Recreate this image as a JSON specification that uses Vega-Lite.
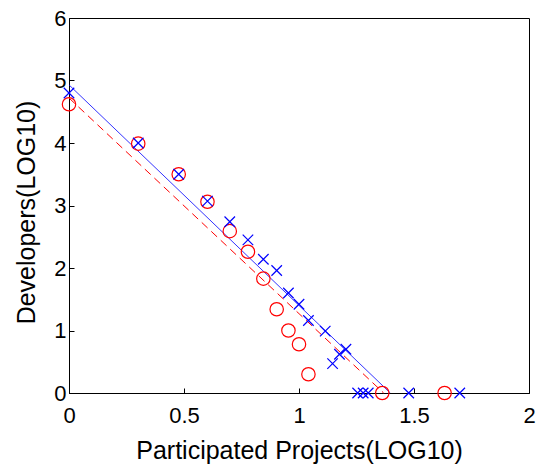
{
  "$schema": "https://vega.github.io/schema/vega-lite/v6.json",
  "width": 460,
  "height": 375,
  "autosize": "none",
  "padding": {"left": 69, "top": 18, "right": 10, "bottom": 71},
  "background": "white",
  "config": {
    "view": {"stroke": "black", "strokeWidth": 1},
    "font": "Liberation Sans",
    "axis": {
      "grid": false,
      "domainColor": "black",
      "tickColor": "black",
      "tickSize": -5,
      "labelColor": "black",
      "titleColor": "black",
      "labelFont": "Liberation Sans",
      "titleFont": "Liberation Sans",
      "labelFontSize": 22,
      "titleFontSize": 25,
      "titleFontWeight": "normal",
      "labelFlush": false,
      "format": "~g"
    }
  },
  "datasets": {
    "pts": [
      {"x": 0, "y": 4.62, "series": "red"},
      {"x": 0.301, "y": 3.99, "series": "red"},
      {"x": 0.477, "y": 3.5, "series": "red"},
      {"x": 0.602, "y": 3.06, "series": "red"},
      {"x": 0.699, "y": 2.59, "series": "red"},
      {"x": 0.778, "y": 2.26, "series": "red"},
      {"x": 0.845, "y": 1.83, "series": "red"},
      {"x": 0.903, "y": 1.34, "series": "red"},
      {"x": 0.954, "y": 1.0, "series": "red"},
      {"x": 1.0, "y": 0.78, "series": "red"},
      {"x": 1.041, "y": 0.3, "series": "red"},
      {"x": 1.362, "y": 0, "series": "red"},
      {"x": 1.633, "y": 0, "series": "red"},
      {"x": 0, "y": 4.8, "series": "blue"},
      {"x": 0.301, "y": 4.0, "series": "blue"},
      {"x": 0.477, "y": 3.5, "series": "blue"},
      {"x": 0.602, "y": 3.07, "series": "blue"},
      {"x": 0.699, "y": 2.74, "series": "blue"},
      {"x": 0.778, "y": 2.45, "series": "blue"},
      {"x": 0.845, "y": 2.14, "series": "blue"},
      {"x": 0.903, "y": 1.96, "series": "blue"},
      {"x": 0.954, "y": 1.6, "series": "blue"},
      {"x": 1.0, "y": 1.42, "series": "blue"},
      {"x": 1.041, "y": 1.16, "series": "blue"},
      {"x": 1.114, "y": 0.99, "series": "blue"},
      {"x": 1.146, "y": 0.47, "series": "blue"},
      {"x": 1.176, "y": 0.62, "series": "blue"},
      {"x": 1.204, "y": 0.7, "series": "blue"},
      {"x": 1.255, "y": 0, "series": "blue"},
      {"x": 1.279, "y": 0, "series": "blue"},
      {"x": 1.301, "y": 0, "series": "blue"},
      {"x": 1.477, "y": 0, "series": "blue"},
      {"x": 1.699, "y": 0, "series": "blue"}
    ],
    "fits": [
      {"x": 0, "y": 4.93, "series": "blue"},
      {"x": 1.397, "y": 0, "series": "blue"},
      {"x": 0, "y": 4.72, "series": "red"},
      {"x": 1.368, "y": 0, "series": "red"}
    ]
  },
  "layer": [
    {
      "data": {"name": "fits"},
      "transform": [{"filter": "datum.series === 'blue'"}],
      "mark": {"type": "line", "color": "#0000ff", "strokeWidth": 1, "opacity": 0.8, "clip": true},
      "encoding": {
        "x": {"field": "x", "type": "quantitative", "scale": {"domain": [0, 2]}, "axis": {"values": [0, 0.5, 1, 1.5, 2], "title": "Participated Projects(LOG10)", "labelPadding": 17, "titlePadding": 12}},
        "y": {"field": "y", "type": "quantitative", "scale": {"domain": [0, 6]}, "axis": {"values": [0, 1, 2, 3, 4, 5, 6], "title": "Developers(LOG10)", "labelPadding": 8, "titlePadding": 14, "titleY": 194}}
      }
    },
    {
      "data": {"name": "fits"},
      "transform": [{"filter": "datum.series === 'red'"}],
      "mark": {"type": "line", "color": "#ff0000", "strokeWidth": 1, "strokeDash": [8, 5]},
      "encoding": {
        "x": {"field": "x", "type": "quantitative"},
        "y": {"field": "y", "type": "quantitative"}
      }
    },
    {
      "data": {"name": "pts"},
      "transform": [{"filter": "datum.series === 'red'"}],
      "mark": {"type": "point", "shape": "circle", "filled": false, "color": "#ff0000", "size": 180, "strokeWidth": 1.2, "opacity": 1, "clip": false},
      "encoding": {
        "x": {"field": "x", "type": "quantitative"},
        "y": {"field": "y", "type": "quantitative"}
      }
    },
    {
      "data": {"name": "pts"},
      "transform": [{"filter": "datum.series === 'blue'"}],
      "mark": {"type": "point", "shape": "M-1,-1L1,1M-1,1L1,-1", "filled": false, "color": "#0000ff", "size": 110, "strokeWidth": 1.2, "opacity": 1, "clip": false},
      "encoding": {
        "x": {"field": "x", "type": "quantitative"},
        "y": {"field": "y", "type": "quantitative"}
      }
    }
  ]
}
